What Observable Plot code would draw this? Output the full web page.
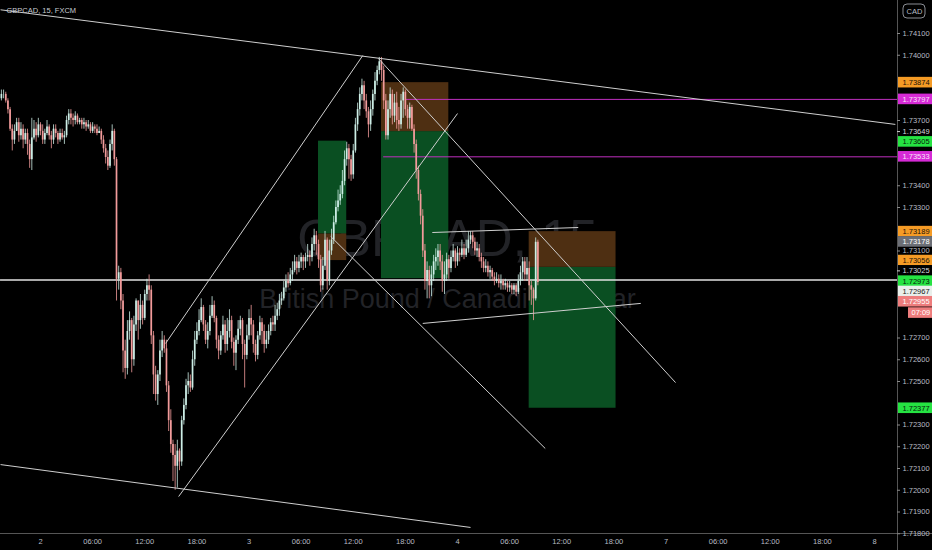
<!DOCTYPE html>
<html><head><meta charset="utf-8">
<script src="https://cdn.jsdelivr.net/npm/d3@7"></script>
<script src="https://cdn.jsdelivr.net/npm/@observablehq/plot@0.6"></script>
<style>html,body{margin:0;padding:0;background:#000;overflow:hidden}</style>
</head><body><div id="chart"></div>
<script>
// ---------- DATA ----------
const chartTitle = "GBPCAD, 15, FXCM";
const watermarkLine1 = "GBPCAD, 15";
const watermarkLine2 = "British Pound / Canadian Dollar";
const quoteCurrency = "CAD";
const countdownText = "07:09";

// 15-minute bars, hours measured from day "2" 00:00
const firstBarHour = -4.5;
const barHours = 0.25;
const firstOpen = 1.7380;
const closes = [
1.7382,1.7382,1.7379,1.7375,1.7366,1.7361,1.7365,1.7369,1.7363,1.7366,
1.7361,1.7364,1.7359,1.7352,1.7362,1.7366,1.7363,1.7368,1.7365,1.7361,
1.7364,1.7367,1.7363,1.7361,1.7366,1.7364,1.7361,1.7364,1.7362,1.7363,
1.7370,1.7373,1.7371,1.7370,1.7372,1.7369,1.7370,1.7368,1.7369,1.7367,
1.7368,1.7365,1.7367,1.7366,1.7364,1.7365,1.7361,1.7357,1.7353,1.7349,
1.7359,1.7365,1.7352,1.7297,1.7300,1.7287,1.7264,1.7256,1.7273,1.7278,
1.7260,1.7276,1.7287,1.7278,1.7285,1.7279,1.7290,1.7294,1.7292,1.7271,
1.7253,1.7244,1.7253,1.7264,1.7269,1.7265,1.7248,1.7232,1.7221,1.7216,
1.7211,1.7218,1.7213,1.7232,1.7239,1.7248,1.7250,1.7247,1.7260,1.7269,
1.7273,1.7278,1.7284,1.7276,1.7269,1.7273,1.7280,1.7285,1.7279,1.7269,
1.7264,1.7271,1.7276,1.7267,1.7273,1.7278,1.7268,1.7263,1.7269,1.7274,
1.7278,1.7267,1.7262,1.7271,1.7279,1.7276,1.7267,1.7262,1.7271,1.7277,
1.7273,1.7267,1.7269,1.7273,1.7277,1.7276,1.7280,1.7283,1.7287,1.7288,
1.7293,1.7296,1.7295,1.7299,1.7301,1.7305,1.7302,1.7305,1.7307,1.7305,
1.7307,1.7308,1.7307,1.7313,1.7317,1.7313,1.7306,1.7294,1.7303,1.7315,
1.7296,1.7310,1.7315,1.7323,1.7330,1.7333,1.7336,1.7342,1.7352,1.7357,
1.7352,1.7345,1.7356,1.7368,1.7375,1.7382,1.7386,1.7379,1.7374,1.7368,
1.7375,1.7382,1.7388,1.7393,1.7397,1.7393,1.7379,1.7363,1.7375,1.7382,
1.7372,1.7378,1.7370,1.7368,1.7379,1.7383,1.7375,1.7371,1.7376,1.7366,
1.7359,1.7347,1.7336,1.7326,1.7310,1.7296,1.7301,1.7294,1.7299,1.7305,
1.7307,1.7310,1.7305,1.7296,1.7299,1.7306,1.7302,1.7307,1.7310,1.7305,
1.7309,1.7308,1.7311,1.7308,1.7311,1.7315,1.7317,1.7314,1.7310,1.7311,
1.7307,1.7305,1.7302,1.7303,1.7300,1.7301,1.7298,1.7296,1.7297,1.7295,
1.7296,1.7294,1.7295,1.7293,1.7294,1.7292,1.7294,1.7291,1.7296,1.7300,
1.7305,1.7299,1.7302,1.7294,1.7292,1.7288,1.7314,1.72955];
const highs = [
1.7384,1.7384,1.7383,1.7380,1.7376,1.7368,1.7368,1.7371,1.7371,1.7369,
1.7368,1.7366,1.7366,1.7361,1.7371,1.7370,1.7369,1.7371,1.7369,1.7368,
1.7366,1.7370,1.7368,1.7365,1.7368,1.7368,1.7365,1.7366,1.7366,1.7365,
1.7372,1.7375,1.7375,1.7373,1.7374,1.7373,1.7371,1.7371,1.7371,1.7370,
1.7370,1.7369,1.7369,1.7368,1.7368,1.7367,1.7366,1.7363,1.7359,1.7356,
1.7361,1.7368,1.7366,1.7353,1.7303,1.7302,1.7290,1.7269,1.7278,1.7282,
1.7279,1.7280,1.7288,1.7287,1.7290,1.7287,1.7292,1.7297,1.7299,1.7294,
1.7273,1.7257,1.7255,1.7269,1.7273,1.7271,1.7269,1.7250,1.7237,1.7223,
1.7221,1.7223,1.7219,1.7234,1.7242,1.7251,1.7254,1.7253,1.7264,1.7273,
1.7277,1.7283,1.7288,1.7285,1.7278,1.7277,1.7285,1.7289,1.7287,1.7280,
1.7271,1.7273,1.7280,1.7278,1.7279,1.7283,1.7280,1.7270,1.7271,1.7278,
1.7280,1.7279,1.7269,1.7276,1.7283,1.7285,1.7278,1.7269,1.7273,1.7280,
1.7279,1.7276,1.7273,1.7276,1.7279,1.7280,1.7285,1.7286,1.7290,1.7291,
1.7296,1.7299,1.7300,1.7302,1.7305,1.7308,1.7307,1.7308,1.7309,1.7308,
1.7309,1.7313,1.7310,1.7316,1.7320,1.7319,1.7315,1.7308,1.7307,1.7319,
1.7316,1.7315,1.7320,1.7326,1.7333,1.7338,1.7340,1.7347,1.7356,1.7360,
1.7359,1.7354,1.7359,1.7371,1.7378,1.7385,1.7389,1.7388,1.7382,1.7376,
1.7379,1.7384,1.7392,1.7395,1.7399,1.7399,1.7395,1.7382,1.7379,1.7385,
1.7384,1.7382,1.7383,1.7376,1.7382,1.7385,1.7384,1.7377,1.7378,1.7377,
1.7368,1.7361,1.7349,1.7338,1.7329,1.7313,1.7305,1.7303,1.7303,1.7308,
1.7311,1.7313,1.7313,1.7308,1.7305,1.7309,1.7308,1.7310,1.7313,1.7311,
1.7312,1.7311,1.7315,1.7313,1.7315,1.7319,1.7319,1.7319,1.7316,1.7314,
1.7313,1.7309,1.7307,1.7306,1.7305,1.7303,1.7302,1.7300,1.7300,1.7299,
1.7299,1.7297,1.7297,1.7296,1.7296,1.7295,1.7295,1.7295,1.7299,1.7303,
1.7307,1.7307,1.7307,1.7305,1.7296,1.7293,1.7316,1.7315];
const lows = [
1.7379,1.7380,1.7378,1.7373,1.7365,1.7356,1.7359,1.7365,1.7360,1.7361,
1.7357,1.7359,1.7354,1.7348,1.7347,1.7361,1.7360,1.7362,1.7363,1.7359,
1.7359,1.7363,1.7361,1.7357,1.7359,1.7362,1.7359,1.7360,1.7361,1.7359,
1.7362,1.7368,1.7368,1.7367,1.7368,1.7368,1.7368,1.7366,1.7366,1.7365,
1.7366,1.7364,1.7364,1.7364,1.7363,1.7364,1.7359,1.7355,1.7350,1.7347,
1.7348,1.7356,1.7349,1.7287,1.7292,1.7283,1.7254,1.7251,1.7253,1.7269,
1.7254,1.7257,1.7273,1.7269,1.7274,1.7276,1.7278,1.7287,1.7287,1.7267,
1.7244,1.7241,1.7239,1.7250,1.7261,1.7263,1.7245,1.7227,1.7217,1.7204,
1.7200,1.7201,1.7209,1.7211,1.7230,1.7237,1.7244,1.7245,1.7246,1.7257,
1.7267,1.7271,1.7277,1.7273,1.7267,1.7265,1.7271,1.7279,1.7277,1.7265,
1.7260,1.7262,1.7269,1.7263,1.7264,1.7270,1.7265,1.7257,1.7255,1.7267,
1.7271,1.7260,1.7247,1.7260,1.7269,1.7271,1.7263,1.7259,1.7260,1.7269,
1.7267,1.7263,1.7265,1.7267,1.7271,1.7273,1.7273,1.7278,1.7280,1.7285,
1.7287,1.7291,1.7293,1.7294,1.7296,1.7300,1.7299,1.7300,1.7302,1.7301,
1.7302,1.7305,1.7303,1.7305,1.7310,1.7308,1.7302,1.7291,1.7292,1.7301,
1.7292,1.7294,1.7308,1.7313,1.7322,1.7328,1.7331,1.7334,1.7340,1.7349,
1.7343,1.7342,1.7343,1.7355,1.7365,1.7372,1.7379,1.7375,1.7371,1.7362,
1.7365,1.7372,1.7379,1.7386,1.7391,1.7388,1.7375,1.7361,1.7361,1.7371,
1.7368,1.7369,1.7366,1.7365,1.7366,1.7371,1.7372,1.7366,1.7366,1.7365,
1.7355,1.7343,1.7333,1.7322,1.7307,1.7292,1.7288,1.7288,1.7289,1.7296,
1.7301,1.7303,1.7301,1.7291,1.7290,1.7296,1.7297,1.7300,1.7305,1.7302,
1.7303,1.7305,1.7307,1.7306,1.7307,1.7309,1.7313,1.7311,1.7308,1.7307,
1.7305,1.7302,1.7300,1.7300,1.7298,1.7297,1.7296,1.7294,1.7295,1.7293,
1.7292,1.7292,1.7292,1.7291,1.7291,1.7290,1.7290,1.7289,1.7290,1.7294,
1.7296,1.7296,1.7296,1.7287,1.7285,1.7278,1.7287,1.7294];

// time axis
const timeTickHours = [0,6,12,18,24,30,36,42,48,54,60,66,72,78,84,90,96];
const timeTickLabels = ["2","06:00","12:00","18:00","3","06:00","12:00","18:00","4","06:00","12:00","18:00","7","06:00","12:00","18:00","8"];
// price axis
const priceTicks = [1.718,1.719,1.720,1.721,1.722,1.723,1.724,1.725,1.726,1.727,1.728,1.729,1.730,1.731,1.732,1.733,1.734,1.735,1.736,1.737,1.738,1.739,1.740,1.741];

// position tools [start hour, end hour]
const posStart  = [32.0, 39.25, 56.25];
const posEnd    = [35.25, 47.0, 66.25];
const posEntry  = [1.73178, 1.73649, 1.73025];
const posStop   = [1.73056, 1.73874, 1.73189];
const posTarget = [1.73605, 1.72973, 1.72377];

// horizontal levels
const levelPrices = [1.72967, 1.73797, 1.73533];
const levelStart  = [-4.6, 42.0, 39.5];
const levelKinds  = ["line", "ray", "ray"];

// trend lines [hour1, price1, hour2, price2]
const trendLines = [
  [-4.6, 1.74209, 98.4, 1.73682],
  [-4.6, 1.72118, 49.5, 1.71829],
  [14.4, 1.72675, 37.1, 1.73999],
  [15.9, 1.71971, 48.0, 1.73732],
  [38.9, 1.73985, 73.1, 1.72495],
  [33.4, 1.73167, 58.1, 1.72192],
  [45.1, 1.73185, 61.9, 1.73208],
  [44.0, 1.72767, 69.1, 1.72859]
];

// price-scale labels
const labelPrices = [1.73874, 1.73797, 1.73649, 1.73605, 1.73533, 1.73189, 1.73178, 1.73056, 1.73025, 1.72973, 1.72967, 1.72955, 1.72377];
const labelKinds  = ["stop","ray","entry","target","ray","stop","mark","stop","entry","target","line","last","target"];

// ---------- LAYOUT ----------
const W = 932, H = 550, PLOT_H = 533;
const PX_PER_HOUR = 834 / 96, X_HOUR0 = 40;
const hAt = px => (px - X_HOUR0) / PX_PER_HOUR;
const PX_PER_PRICE = 21750, P_REF = 1.741, Y_REF = 33;
const pAt = py => P_REF - (py - Y_REF) / PX_PER_PRICE;
const yPx = p => Y_REF + (P_REF - p) * PX_PER_PRICE;
const AXIS_X = 897;
const FS = 7.5;
const LABEL_GAP = 10.3, LABEL_HALF = 5.3;

const UP = "#cdeee6", DOWN = "#f29b9b";
const styleOf = {
  stop:   {bg: "#f59b25", fg: "#1b1207"},
  ray:    {bg: "#d62ad6", fg: "#fbe3fb"},
  entry:  {bg: "#000000", fg: "#d6d8de"},
  target: {bg: "#25e342", fg: "#06210b"},
  mark:   {bg: "#6c6f76", fg: "#ffffff"},
  line:   {bg: "#e9efeb", fg: "#222222"},
  last:   {bg: "#ee7d7d", fg: "#ffffff"}
};
const levelColor = {line: "#e2e2e2", ray: "#bf2fbf"};

const candles = closes.map((c, i) => ({
  t: firstBarHour + i * barHours,
  o: i === 0 ? firstOpen : closes[i - 1],
  c, h: highs[i], l: lows[i]
}));

const positions = posStart.map((s, i) => ({s, e: posEnd[i], entry: posEntry[i], stop: posStop[i], target: posTarget[i]}));
const levels = levelPrices.map((p, i) => ({p, start: levelStart[i], kind: levelKinds[i]}));
const lines = trendLines.map(([t1, p1, t2, p2]) => ({t1, p1, t2, p2}));

// stack labels on the price scale so they never overlap
const stack = labelPrices.map((p, i) => ({p, kind: labelKinds[i]})).sort((a, b) => b.p - a.p);
let prevY = -Infinity;
for (const d of stack) {
  let y = yPx(d.p);
  if (y < prevY + LABEL_GAP) y = prevY + LABEL_GAP;
  prevY = y;
  d.py = y; d.yc = pAt(y); d.y1 = pAt(y - LABEL_HALF); d.y2 = pAt(y + LABEL_HALF);
  d.text = d.p.toFixed(5);
}
const lastLabel = stack.find(d => d.kind === "last");
const cdY = lastLabel.py + 11.3;
const countdown = [{py: cdY, yc: pAt(cdY), y1: pAt(cdY - LABEL_HALF), y2: pAt(cdY + LABEL_HALF)}];
const occupied = stack.map(d => d.py).concat([cdY]);
const visibleTicks = priceTicks.filter(p => occupied.every(y => Math.abs(yPx(p) - y) > 8));

const timeLabelOf = new Map(timeTickHours.map((h, i) => [h, timeTickLabels[i]]));
const FONT = "'Liberation Sans', 'DejaVu Sans', sans-serif";

const chart = Plot.plot({
  width: W, height: H,
  marginTop: 0, marginBottom: H - PLOT_H, marginLeft: 0, marginRight: 0,
  style: {background: "#000", fontFamily: FONT, fontSize: FS + "px", color: "#b8bcc4"},
  x: {type: "linear", domain: [hAt(0), hAt(W)], axis: null},
  y: {domain: [pAt(PLOT_H), pAt(0)], axis: null},
  color: {type: "identity"},
  marks: [
    // watermark
    Plot.text([watermarkLine1], {text: d => d, frameAnchor: "middle", dx: -19, dy: -27, fontSize: 51, fill: "#222327"}),
    Plot.text([watermarkLine2], {text: d => d, frameAnchor: "middle", dx: -19, dy: 32, fontSize: 27, fill: "#222327"}),
    // position tools
    Plot.rect(positions, {x1: "s", x2: "e", y1: "entry", y2: "target", fill: "#0a4f22"}),
    Plot.rect(positions, {x1: "s", x2: "e", y1: "entry", y2: "stop", fill: "#4e2f12"}),
    // horizontal levels
    Plot.ruleY(levels, {y: "p", x1: "start", x2: hAt(AXIS_X), stroke: d => levelColor[d.kind], strokeWidth: d => d.kind === "line" ? 1.6 : 1}),
    // candles
    Plot.ruleX(candles, {x: "t", y1: "l", y2: "h", stroke: d => d.c >= d.o ? UP : DOWN, strokeWidth: 0.8}),
    Plot.ruleX(candles, {x: "t", y1: "o", y2: "c", stroke: d => d.c >= d.o ? UP : DOWN, strokeWidth: 1.7}),
    // trend lines
    Plot.link(lines, {x1: "t1", y1: "p1", x2: "t2", y2: "p2", stroke: "#cfcfcf", strokeWidth: 1}),
    // title
    Plot.text([chartTitle], {text: d => d, frameAnchor: "top-left", dx: 6, dy: 10, textAnchor: "start", lineAnchor: "middle", fontSize: FS, fill: "#c9ccd3"}),
    // price axis region
    Plot.rect([0], {x1: hAt(AXIS_X), x2: hAt(W), y1: pAt(0), y2: pAt(H), fill: "#000"}),
    Plot.ruleX([hAt(AXIS_X)], {y1: pAt(0), y2: pAt(H), stroke: "#555", strokeWidth: 1}),
    Plot.ruleY([pAt(PLOT_H)], {x1: hAt(0), x2: hAt(W), stroke: "#555", strokeWidth: 1}),
    Plot.ruleY(visibleTicks, {y: d => d, x1: hAt(AXIS_X), x2: hAt(AXIS_X + 3), stroke: "#888"}),
    Plot.text(visibleTicks, {x: hAt(AXIS_X + 5), y: d => d, text: d => d.toFixed(5), textAnchor: "start", fill: "#b8bcc4", fontSize: FS}),
    // stacked price labels
    Plot.rect(stack, {x1: hAt(AXIS_X + 1), x2: hAt(W), y1: "y1", y2: "y2", fill: d => styleOf[d.kind].bg}),
    Plot.ruleY(stack.filter(d => d.kind === "entry"), {y: "yc", x1: hAt(AXIS_X), x2: hAt(AXIS_X + 3), stroke: "#ccc"}),
    Plot.text(stack, {x: hAt(AXIS_X + 5), y: "yc", text: "text", textAnchor: "start", fill: d => styleOf[d.kind].fg, fontSize: FS}),
    Plot.rect(countdown, {x1: hAt(908), x2: hAt(W), y1: "y1", y2: "y2", fill: styleOf.last.bg}),
    Plot.text(countdown, {x: hAt(911), y: "yc", text: () => countdownText, textAnchor: "start", fill: styleOf.last.fg, fontSize: FS}),
    // currency badge
    Plot.rect([0], {x1: hAt(903), x2: hAt(925), y1: pAt(4), y2: pAt(18), fill: "none", stroke: "#8a8d94", rx: 4}),
    Plot.text([quoteCurrency], {x: hAt(914), y: pAt(11), text: d => d, fontSize: FS, fill: "#b8bcc4"}),
    // time axis
    Plot.axisX(timeTickHours, {anchor: "bottom", tickSize: 0, tickPadding: 5, tickFormat: d => timeLabelOf.get(d), color: "#b8bcc4", fontSize: FS})
  ]
});
document.getElementById("chart").appendChild(chart);
</script>
</body></html>
